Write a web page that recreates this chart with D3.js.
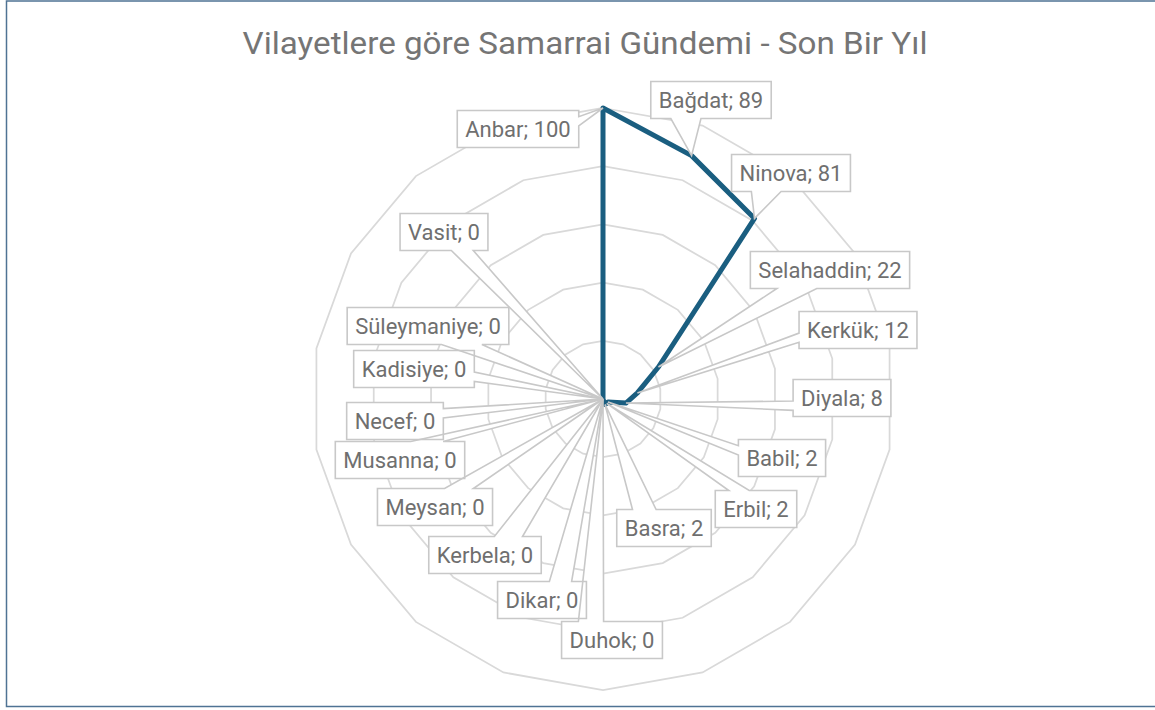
<!DOCTYPE html>
<html>
<head>
<meta charset="utf-8">
<script src="https://cdn.jsdelivr.net/npm/d3@7"></script>
<style>
  html, body { margin: 0; padding: 0; background: #fff; }
  svg { display: block; font-family: Roboto, "Noto Sans", sans-serif; }
</style>
</head>
<body>
<svg id="chart" width="1155" height="710"></svg>
<script>
'use strict';
// provinces, clockwise from the top
var provinces = ['Anbar', 'Bağdat', 'Ninova', 'Selahaddin', 'Kerkük', 'Diyala', 'Babil', 'Erbil', 'Basra',
    'Duhok', 'Dikar', 'Kerbela', 'Meysan', 'Musanna', 'Necef', 'Kadisiye', 'Süleymaniye', 'Vasit'];
var scores = [100, 89, 81, 22, 12, 8, 2, 2, 2, 0, 0, 0, 0, 0, 0, 0, 0, 0];
var gridValues = [20, 40, 60, 80, 100];
var title = 'Vilayetlere göre Samarrai Gündemi - Son Bir Yıl';

// where each callout box sits (box centre, pixels)
var labelCentres = [
    [518, 129], [711, 100], [791, 173], [830, 270], [858, 330], [842, 398],
    [782, 458], [756, 509], [664, 528], [612, 640], [542, 600], [485, 555],
    [435, 507], [400, 460], [395, 421], [414, 369], [428, 326], [444, 232]
];

var svg = d3.select('#chart');
var cx = 603, cy = 399, radius = 291;

svg.append('rect')
    .attr('x', 6.5).attr('y', 1).attr('width', 1160).attr('height', 705.5)
    .attr('fill', 'none').attr('stroke', '#4f7394').attr('stroke-width', 1.5);

svg.append('text')
    .attr('x', 585).attr('y', 54)
    .attr('text-anchor', 'middle')
    .attr('font-size', 31)
    .attr('textLength', 685)
    .attr('lengthAdjust', 'spacingAndGlyphs')
    .attr('fill', '#757575')
    .text(title);

var r = d3.scaleLinear().domain([0, 100]).range([0, radius]);
var angle = d3.scaleLinear().domain([0, provinces.length]).range([0, 2 * Math.PI]);

var g = svg.append('g').attr('transform', 'translate(' + cx + ',' + cy + ')');

// grid rings
var ring = d3.lineRadial()
    .angle(function(d, i) { return angle(i); })
    .radius(function(d) { return r(d); })
    .curve(d3.curveLinearClosed);
g.selectAll('path.grid')
    .data(gridValues)
    .enter().append('path')
    .attr('class', 'grid')
    .attr('d', function(v) { return ring(provinces.map(function() { return v; })); })
    .attr('fill', 'none')
    .attr('stroke', '#d9d9d9')
    .attr('stroke-width', 1.75);

function pointFor(i) {
    var a = angle(i);
    return [cx + r(scores[i]) * Math.sin(a), cy - r(scores[i]) * Math.cos(a)];
}

// OOXML wedgeRectCallout geometry
function callout(x, y, w, h, tx, ty) {
    var hc = x + w / 2, vc = y + h / 2;
    var dx = tx - hc, dy = ty - vc;
    var dq = dx * h / w;
    var dz = Math.abs(dy) - Math.abs(dq);
    var x1 = x + w * (dx > 0 ? 7 : 2) / 12, x2 = x + w * (dx > 0 ? 10 : 5) / 12;
    var y1 = y + h * (dy > 0 ? 7 : 2) / 12, y2 = y + h * (dy > 0 ? 10 : 5) / 12;
    var rr = x + w, b = y + h;
    var p = 'M' + x + ',' + y;
    if (dz > 0 && dy < 0) p += 'L' + x1 + ',' + y + 'L' + tx + ',' + ty + 'L' + x2 + ',' + y;
    p += 'L' + rr + ',' + y;
    if (dz <= 0 && dx > 0) p += 'L' + rr + ',' + y1 + 'L' + tx + ',' + ty + 'L' + rr + ',' + y2;
    p += 'L' + rr + ',' + b;
    if (dz > 0 && dy > 0) p += 'L' + x2 + ',' + b + 'L' + tx + ',' + ty + 'L' + x1 + ',' + b;
    p += 'L' + x + ',' + b;
    if (dz <= 0 && dx < 0) p += 'L' + x + ',' + y2 + 'L' + tx + ',' + ty + 'L' + x + ',' + y1;
    return p + 'Z';
}

// measure label text
var fontSize = 22, padX = 8, boxH = 37;
var labels = provinces.map(function(name, i) { return name + '; ' + scores[i]; });
var measure = svg.append('text').attr('font-size', fontSize);
var widths = labels.map(function(t) { measure.text(t); return measure.node().getComputedTextLength(); });
measure.remove();

var boxes = labels.map(function(t, i) {
    var w = widths[i] + 2 * padX;
    var c = labelCentres[i];
    var tip = pointFor(i);
    return { text: t, x: c[0] - w / 2, y: c[1] - boxH / 2, w: w, h: boxH, cx: c[0], cy: c[1], tip: tip };
});

var calloutLayer = svg.append('g');
calloutLayer.selectAll('path.fill')
    .data(boxes)
    .enter().append('path')
    .attr('d', function(d) { return callout(d.x, d.y, d.w, d.h, d.tip[0], d.tip[1]); })
    .attr('fill', '#fff')
    .attr('stroke', 'none');

// data line
g.append('path')
    .datum(scores)
    .attr('d', d3.lineRadial()
        .angle(function(d, i) { return angle(i); })
        .radius(function(d) { return r(d); })
        .curve(d3.curveLinearClosed))
    .attr('fill', 'none')
    .attr('stroke', '#1a5e80')
    .attr('stroke-width', 5)
    .attr('stroke-linejoin', 'round');

var outlines = svg.append('g');
outlines.selectAll('path')
    .data(boxes)
    .enter().append('path')
    .attr('d', function(d) { return callout(d.x, d.y, d.w, d.h, d.tip[0], d.tip[1]); })
    .attr('fill', 'none')
    .attr('stroke', '#c8c8c8')
    .attr('stroke-width', 1.6);

outlines.selectAll('text')
    .data(boxes)
    .enter().append('text')
    .attr('x', function(d) { return d.cx; })
    .attr('y', function(d) { return d.cy + 7.5; })
    .attr('text-anchor', 'middle')
    .attr('font-size', fontSize)
    .attr('fill', '#6f6f6f')
    .text(function(d) { return d.text; });
</script>
</body>
</html>
